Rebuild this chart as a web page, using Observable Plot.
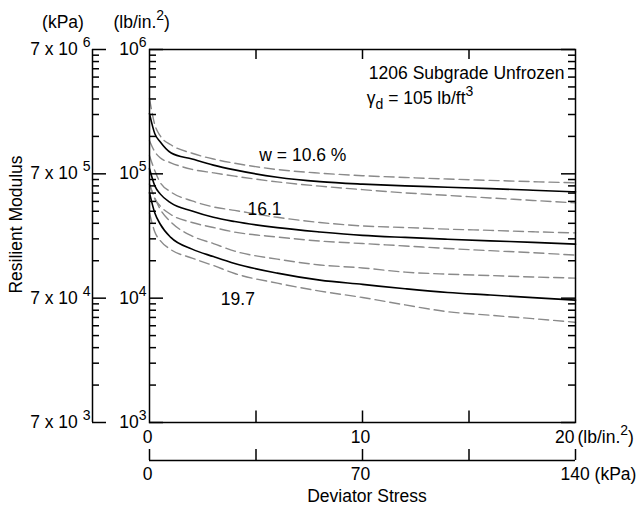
<!DOCTYPE html>
<html>
<head>
<meta charset="utf-8">
<script src="https://cdn.jsdelivr.net/npm/d3@7"></script>
<script src="https://cdn.jsdelivr.net/npm/@observablehq/plot@0.6"></script>
<style>
  html, body { margin: 0; padding: 0; background: #fff; }
  svg { display: block; }
</style>
</head>
<body>
<div id="chart"></div>
<script>
// Deviator stress (lb/in.^2)
const stress = [0, 0.25, 0.5, 1, 2, 3, 4, 6, 8, 10, 12, 14, 16, 18, 20];

// Resilient modulus (lb/in.^2), w = 10.6 %
const mr106      = [305000, 210000, 181000, 147700, 131400, 117500, 107600, 93900, 86500, 82600, 80000, 78100, 76000, 73800, 71600];
const mr106Upper = [402500, 248000, 202500, 171400, 146300, 131600, 121700, 108300, 101300, 96600, 93500, 90800, 88600, 86500, 84600];
const mr106Lower = [184600, 150400, 134600, 122700, 108700, 101900, 95800, 86200, 79600, 74600, 70300, 67100, 64000, 61100, 58400];
// w = 16.1 %
const mr161      = [109700, 80000, 69000, 58400, 50300, 44700, 41300, 36900, 34100, 32000, 30800, 29800, 28900, 28100, 27200];
const mr161Upper = [139700, 105700, 85400, 71600, 60600, 54200, 50800, 44700, 40600, 38100, 37000, 35900, 35100, 34200, 33500];
const mr161Lower = [83000, 62900, 55200, 47100, 40600, 37000, 34000, 31000, 28800, 27500, 26300, 25100, 24100, 23200, 22200];
// w = 19.7 %
const mr197      = [70300, 48400, 39500, 30800, 24800, 21600, 19000, 15900, 13960, 12900, 11900, 11100, 10600, 10100, 9640];
const mr197Upper = [82000, 64000, 52000, 41000, 31600, 27500, 23900, 20600, 18500, 17500, 16200, 15600, 15200, 14800, 14500];
const mr197Lower = [48400, 34000, 29100, 24600, 21000, 18300, 15800, 13200, 11400, 10130, 8830, 7780, 7290, 6840, 6400];

// Axis ticks and labels
const yDecades = [1e3, 1e4, 1e5, 1e6];
const psiTickLabels = ["10^{3}", "10^{4}", "10^{5}", "10^{6}"];
const kpaTickLabels = ["7 x 10 ^{3}", "7 x 10 ^{4}", "7 x 10 ^{5}", "7 x 10 ^{6}"];
const xTicks = [0, 5, 10, 15, 20];
const xTickLabels = ["0", "", "10", "", "20"];
const kpaXTicks = [0, 35, 70, 105, 140];
const kpaXTickLabels = ["0", "", "70", "", "140 (kPa)"];

// Curve labels
const curveLabels = [
  {x: 7.2, y: 139700, text: "w = 10.6 %"},
  {x: 5.4, y: 52200, text: "16.1"},
  {x: 4.15, y: 9860, text: "19.7"}
];
const titleLine1 = [{x: 19.48, y: 644000, text: "1206 Subgrade Unfrozen"}];
const titleLine2 = [{x: 10.2, y: 403000, text: "γ_{d} = 105 lb/ft^{3}"}];

// Build tidy rows
const series = [
  {key: "106", kind: "mean", values: mr106},
  {key: "106u", kind: "band", values: mr106Upper},
  {key: "106l", kind: "band", values: mr106Lower},
  {key: "161", kind: "mean", values: mr161},
  {key: "161u", kind: "band", values: mr161Upper},
  {key: "161l", kind: "band", values: mr161Lower},
  {key: "197", kind: "mean", values: mr197},
  {key: "197u", kind: "band", values: mr197Upper},
  {key: "197l", kind: "band", values: mr197Lower}
];
const rows = series.flatMap(s => s.values.map((v, i) => ({key: s.key, kind: s.kind, stress: stress[i], mr: v})));
const yMinor = [1e3, 1e4, 1e5].flatMap(d => [2,3,4,5,6,7,8,9].map(k => k * d));

const W = 644, H = 506, mL = 149, mR = 69, mT = 49, mB = 84;
const pw = W - mL - mR, ph = H - mT - mB;
const FS = 17.5;
const AX = {stroke: "black", strokeWidth: 1.5};
const T = {fontSize: FS, lineAnchor: "middle"};

const chart = Plot.plot({
  width: W, height: H,
  marginLeft: mL, marginRight: mR, marginTop: mT, marginBottom: mB,
  style: {fontFamily: "'Liberation Sans', Arial, Helvetica, sans-serif", fontSize: FS + "px", background: "white", color: "black"},
  x: {domain: [0, 20], axis: null},
  y: {type: "log", domain: [1e3, 1e6], axis: null},
  marks: [
    // data curves
    Plot.line(rows.filter(d => d.kind === "band"), {x: "stress", y: "mr", z: "key", stroke: "#8a8a8a", strokeWidth: 1.4, strokeDasharray: "10,5", curve: "monotone-x"}),
    Plot.line(rows.filter(d => d.kind === "mean"), {x: "stress", y: "mr", z: "key", stroke: "black", strokeWidth: 1.6, curve: "monotone-x"}),
    // frame
    Plot.frame(AX),
    // left psi ticks (inward)
    Plot.ruleY(yDecades, {...AX, insetRight: pw - 14}),
    Plot.ruleY(yMinor, {...AX, insetRight: pw - 7}),
    // right ticks (inward)
    Plot.ruleY(yDecades, {...AX, insetLeft: pw - 14}),
    Plot.ruleY(yMinor, {...AX, insetLeft: pw - 7}),
    // kPa left axis
    Plot.ruleX([0], {...AX, dx: -57}),
    Plot.ruleY(yDecades, {...AX, insetRight: pw - 14, dx: -57}),
    Plot.ruleY(yMinor, {...AX, insetRight: pw - 7, dx: -57}),
    // top and bottom x ticks
    Plot.ruleX(xTicks.slice(1, -1), {...AX, insetBottom: ph - 10}),
    Plot.ruleX(xTicks.slice(1, -1), {...AX, insetTop: ph - 11.5}),
    // kPa bottom axis
    Plot.ruleY([1e3], {...AX, dy: 38}),
    Plot.ruleX(kpaXTicks, {...AX, x: d => d / 7, insetTop: ph - 11, dy: 38}),
    // y tick labels
    Plot.text(yDecades, {...T, y: d => d, frameAnchor: "left", text: (d, i) => psiTickLabels[i], textAnchor: "end", dx: -3}),
    Plot.text(yDecades, {...T, y: d => d, frameAnchor: "left", text: (d, i) => kpaTickLabels[i], textAnchor: "end", dx: -59}),
    // x tick labels
    Plot.text(xTicks.slice(0, -1), {...T, x: d => d, frameAnchor: "bottom", text: (d, i) => xTickLabels[i], textAnchor: "middle", dy: 15, dx: -2}),
    Plot.text([20], {...T, x: d => d, frameAnchor: "bottom", text: ["20"], textAnchor: "end", dy: 15, dx: -1}),
    Plot.text([20], {...T, x: d => d, frameAnchor: "bottom", text: ["(lb/in.^{2})"], textAnchor: "start", dy: 15, dx: 2}),
    Plot.text(kpaXTicks.slice(0, -1), {...T, x: d => d / 7, frameAnchor: "bottom", text: (d, i) => kpaXTickLabels[i], textAnchor: "middle", dy: 52, dx: -2}),
    Plot.text([140], {...T, x: d => d / 7, frameAnchor: "bottom", text: ["140 (kPa)"], textAnchor: "start", dy: 52, dx: -15}),
    // unit headers
    Plot.text(["(kPa)"], {...T, frameAnchor: "top-left", text: d => d, textAnchor: "middle", dx: -86.5, dy: -27.3}),
    Plot.text(["(lb/in.^{2})"], {...T, frameAnchor: "top-left", text: d => d, textAnchor: "start", dx: -36, dy: -27.3}),
    // axis titles
    Plot.text(["Deviator Stress"], {...T, frameAnchor: "bottom", text: d => d, textAnchor: "middle", dx: 4.5, dy: 74}),
    Plot.text(["Resilient Modulus"], {...T, frameAnchor: "left", text: d => d, textAnchor: "middle", rotate: -90, dx: -133.5, dy: -11.5}),
    // annotations
    Plot.text(curveLabels, {...T, x: "x", y: "y", text: "text"}),
    Plot.text(titleLine1, {...T, x: "x", y: "y", text: "text", textAnchor: "end"}),
    Plot.text(titleLine2, {...T, x: "x", y: "y", text: "text", textAnchor: "start"})
  ]
});

// Rich text: ^{..} superscript, _{..} subscript
d3.select(chart).selectAll("text").each(function() {
  const el = this;
  const s = el.textContent;
  if (!/[\^_]\{/.test(s)) return;
  while (el.firstChild) el.removeChild(el.firstChild);
  const parts = s.split(/(\^\{[^}]*\}|_\{[^}]*\})/).filter(p => p !== "");
  let shift = 0;
  for (const p of parts) {
    const t = document.createElementNS("http://www.w3.org/2000/svg", "tspan");
    let target = 0, content = p;
    if (p.startsWith("^{")) { target = -8; content = p.slice(2, -1); t.setAttribute("font-size", "14"); }
    else if (p.startsWith("_{")) { target = 5; content = p.slice(2, -1); t.setAttribute("font-size", "14"); }
    const d = target - shift;
    if (d) t.setAttribute("dy", d);
    shift = target;
    t.textContent = content;
    el.appendChild(t);
  }
});

document.getElementById("chart").appendChild(chart);
</script>
</body>
</html>
